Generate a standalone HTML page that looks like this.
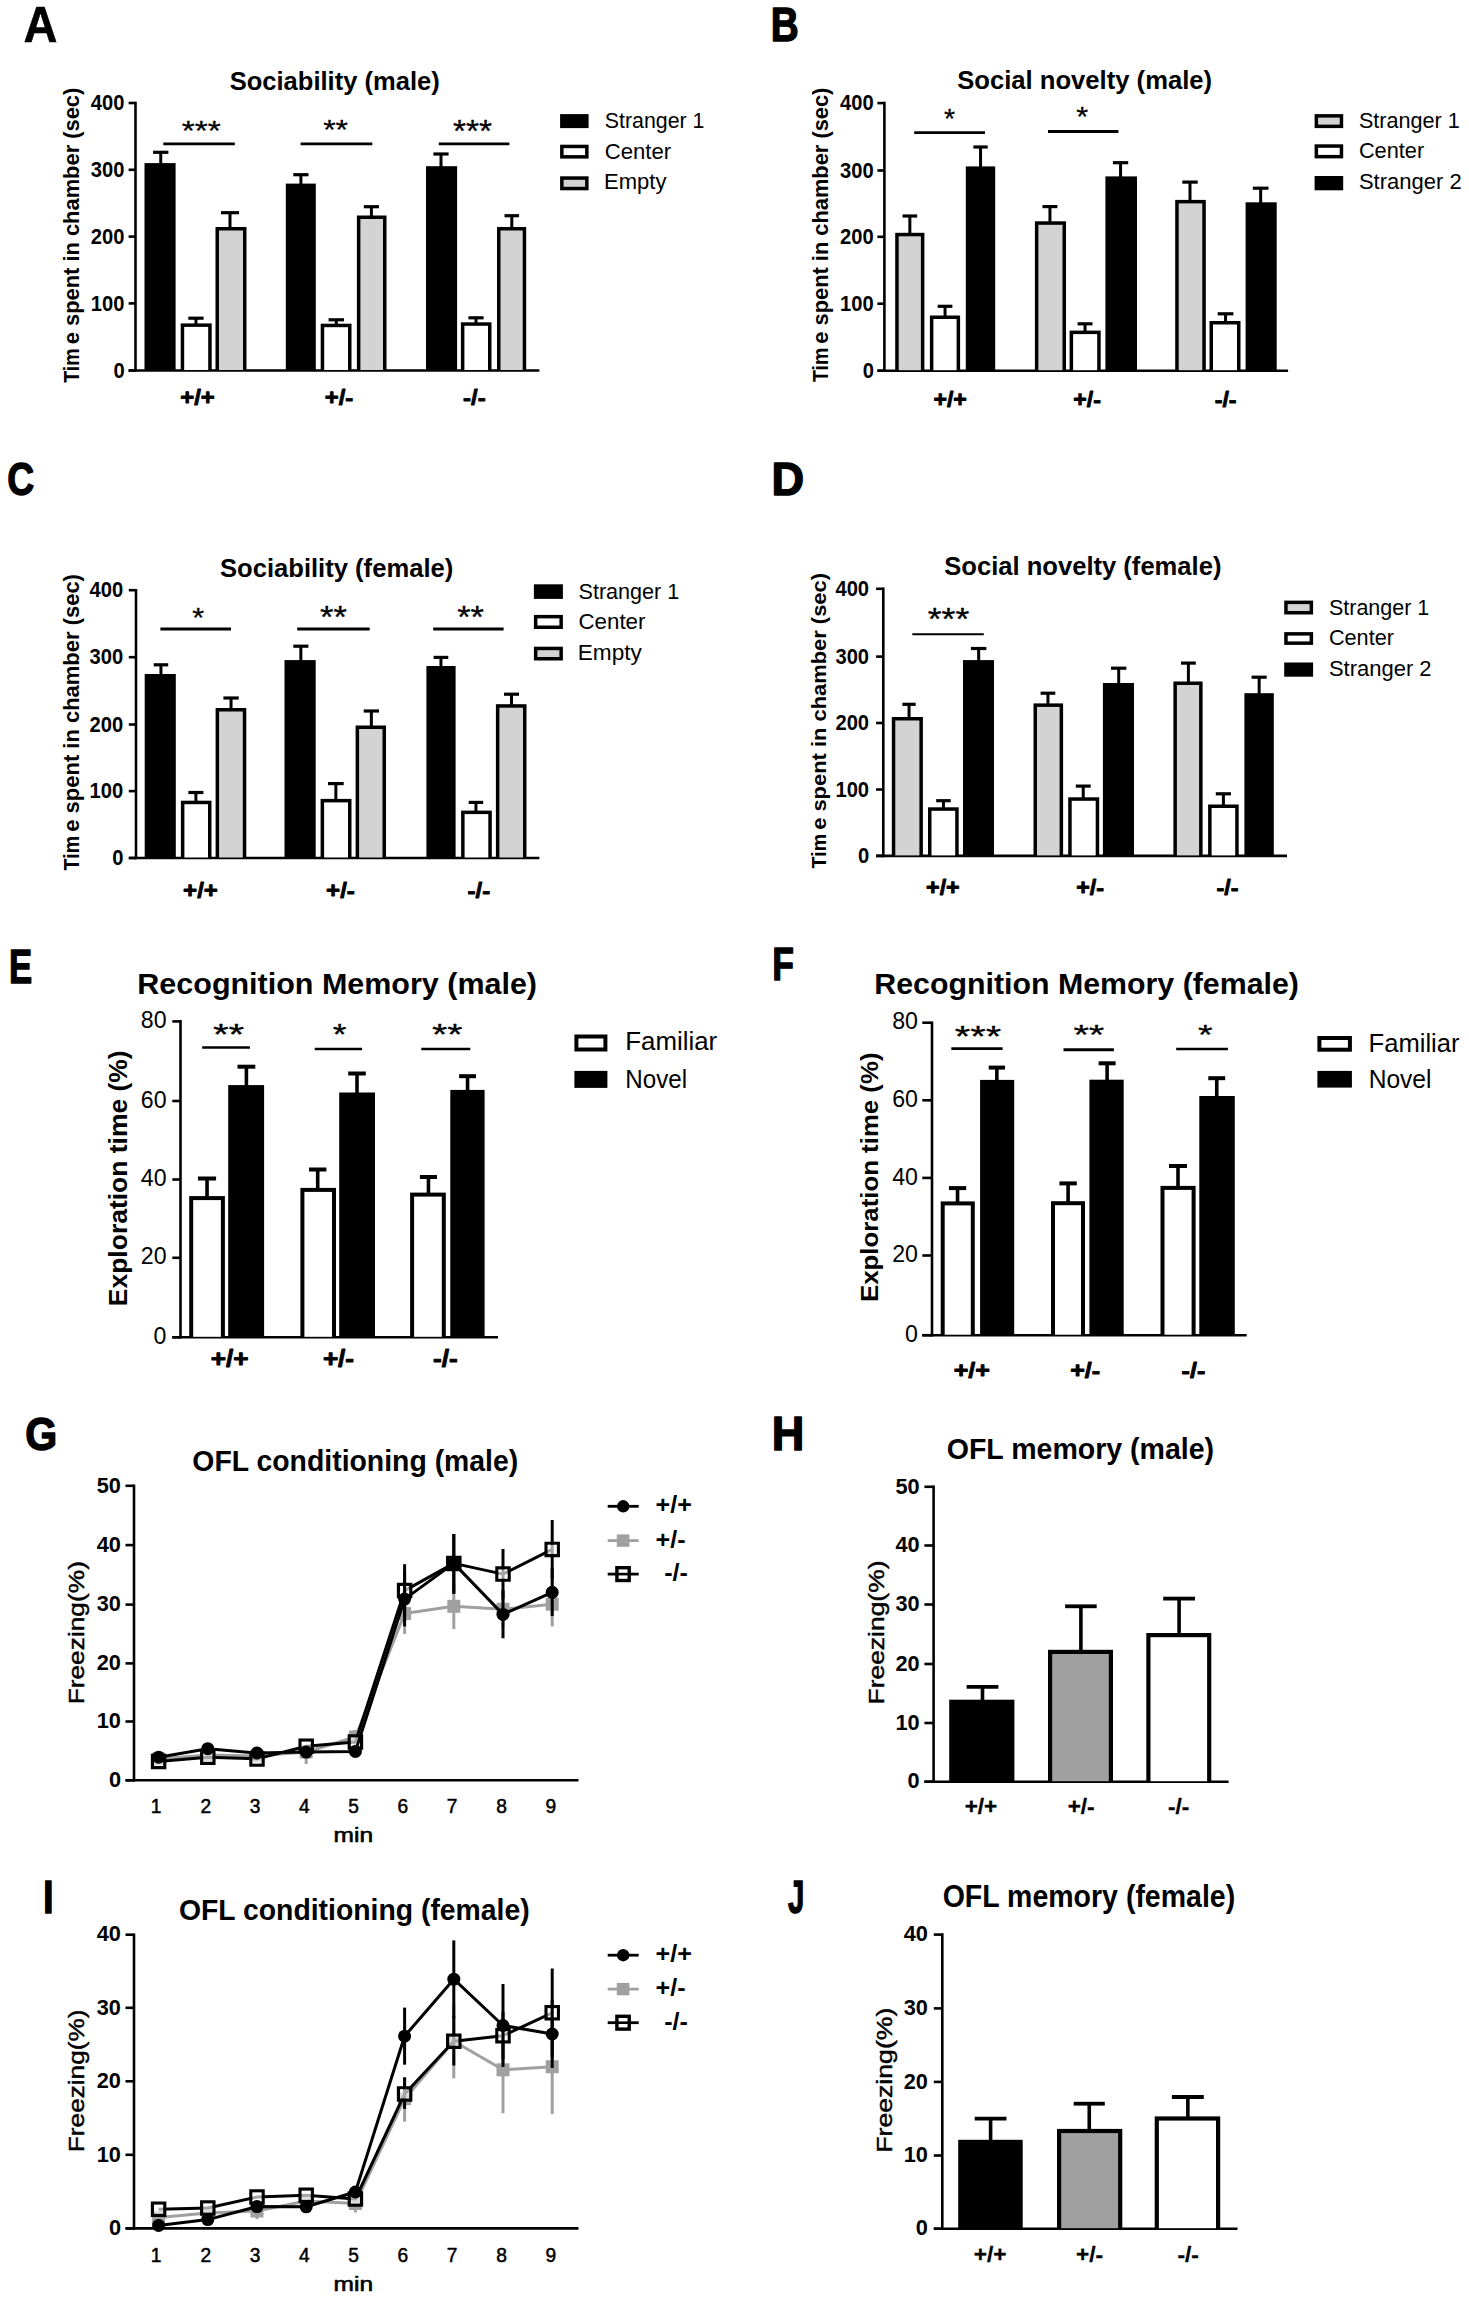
<!DOCTYPE html>
<html><head><meta charset="utf-8"><style>
html,body{margin:0;padding:0;background:#fff;overflow:hidden;width:1469px;height:2300px;}
svg{display:block;}
text{font-family:"Liberation Sans",sans-serif;}
</style></head><body>
<svg width="1469" height="2300" viewBox="0 0 1469 2300">
<rect width="1469" height="2300" fill="#fff"/>
<line x1="135.50" y1="101.70" x2="135.50" y2="371.80" stroke="#000" stroke-width="2.6" stroke-linecap="butt"/>
<line x1="128.60" y1="370.50" x2="539.40" y2="370.50" stroke="#000" stroke-width="2.6" stroke-linecap="butt"/>
<line x1="128.60" y1="103.00" x2="135.50" y2="103.00" stroke="#000" stroke-width="2.6" stroke-linecap="butt"/>
<line x1="128.60" y1="169.80" x2="135.50" y2="169.80" stroke="#000" stroke-width="2.6" stroke-linecap="butt"/>
<line x1="128.60" y1="236.60" x2="135.50" y2="236.60" stroke="#000" stroke-width="2.6" stroke-linecap="butt"/>
<line x1="128.60" y1="303.40" x2="135.50" y2="303.40" stroke="#000" stroke-width="2.6" stroke-linecap="butt"/>
<line x1="128.60" y1="370.50" x2="135.50" y2="370.50" stroke="#000" stroke-width="2.6" stroke-linecap="butt"/>
<text transform="translate(90.82,110.21) scale(0.2017,0.2169)" font-size="100" font-weight="bold" fill="#000" xml:space="preserve">400</text>
<text transform="translate(90.82,177.01) scale(0.2017,0.2169)" font-size="100" font-weight="bold" fill="#000" xml:space="preserve">300</text>
<text transform="translate(90.82,243.81) scale(0.2017,0.2169)" font-size="100" font-weight="bold" fill="#000" xml:space="preserve">200</text>
<text transform="translate(90.82,310.61) scale(0.2017,0.2169)" font-size="100" font-weight="bold" fill="#000" xml:space="preserve">100</text>
<text transform="translate(113.41,377.71) scale(0.2017,0.2169)" font-size="100" font-weight="bold" fill="#000" xml:space="preserve">0</text>
<line x1="160.75" y1="164.10" x2="160.75" y2="152.30" stroke="#000" stroke-width="3.0" stroke-linecap="butt"/>
<line x1="153.10" y1="152.30" x2="168.40" y2="152.30" stroke="#000" stroke-width="3.2" stroke-linecap="butt"/>
<rect x="144.50" y="163.10" width="31.10" height="207.40" fill="#000"/>
<line x1="195.95" y1="324.40" x2="195.95" y2="318.20" stroke="#000" stroke-width="3.0" stroke-linecap="butt"/>
<line x1="188.30" y1="318.20" x2="203.60" y2="318.20" stroke="#000" stroke-width="3.2" stroke-linecap="butt"/>
<rect x="180.70" y="323.40" width="31.00" height="47.10" fill="#000"/>
<rect x="184.20" y="326.90" width="24.00" height="43.10" fill="#fff"/>
<line x1="230.00" y1="228.00" x2="230.00" y2="212.70" stroke="#000" stroke-width="3.0" stroke-linecap="butt"/>
<line x1="221.00" y1="212.70" x2="239.00" y2="212.70" stroke="#000" stroke-width="3.2" stroke-linecap="butt"/>
<rect x="215.50" y="227.00" width="31.00" height="143.50" fill="#000"/>
<rect x="219.00" y="230.50" width="24.00" height="139.50" fill="#d3d3d3"/>
<line x1="300.90" y1="184.60" x2="300.90" y2="174.70" stroke="#000" stroke-width="3.0" stroke-linecap="butt"/>
<line x1="293.30" y1="174.70" x2="308.50" y2="174.70" stroke="#000" stroke-width="3.2" stroke-linecap="butt"/>
<rect x="285.80" y="183.60" width="30.00" height="186.90" fill="#000"/>
<line x1="336.30" y1="324.70" x2="336.30" y2="319.80" stroke="#000" stroke-width="3.0" stroke-linecap="butt"/>
<line x1="328.60" y1="319.80" x2="344.00" y2="319.80" stroke="#000" stroke-width="3.2" stroke-linecap="butt"/>
<rect x="320.70" y="323.70" width="30.80" height="46.80" fill="#000"/>
<rect x="324.20" y="327.20" width="23.80" height="42.80" fill="#fff"/>
<line x1="371.40" y1="216.50" x2="371.40" y2="206.70" stroke="#000" stroke-width="3.0" stroke-linecap="butt"/>
<line x1="363.80" y1="206.70" x2="379.00" y2="206.70" stroke="#000" stroke-width="3.2" stroke-linecap="butt"/>
<rect x="356.90" y="215.50" width="29.60" height="155.00" fill="#000"/>
<rect x="360.40" y="219.00" width="22.60" height="151.00" fill="#d3d3d3"/>
<line x1="441.00" y1="167.20" x2="441.00" y2="154.00" stroke="#000" stroke-width="3.0" stroke-linecap="butt"/>
<line x1="433.40" y1="154.00" x2="448.60" y2="154.00" stroke="#000" stroke-width="3.2" stroke-linecap="butt"/>
<rect x="426.00" y="166.20" width="31.10" height="204.30" fill="#000"/>
<line x1="476.00" y1="323.30" x2="476.00" y2="317.80" stroke="#000" stroke-width="3.0" stroke-linecap="butt"/>
<line x1="468.40" y1="317.80" x2="483.60" y2="317.80" stroke="#000" stroke-width="3.2" stroke-linecap="butt"/>
<rect x="460.90" y="322.30" width="30.60" height="48.20" fill="#000"/>
<rect x="464.40" y="325.80" width="23.60" height="44.20" fill="#fff"/>
<line x1="511.80" y1="228.00" x2="511.80" y2="215.70" stroke="#000" stroke-width="3.0" stroke-linecap="butt"/>
<line x1="504.50" y1="215.70" x2="519.10" y2="215.70" stroke="#000" stroke-width="3.2" stroke-linecap="butt"/>
<rect x="497.00" y="227.00" width="29.20" height="143.50" fill="#000"/>
<rect x="500.50" y="230.50" width="22.20" height="139.50" fill="#d3d3d3"/>
<line x1="163.30" y1="143.90" x2="234.80" y2="143.90" stroke="#000" stroke-width="2.8" stroke-linecap="butt"/>
<line x1="300.60" y1="143.90" x2="372.30" y2="143.90" stroke="#000" stroke-width="2.8" stroke-linecap="butt"/>
<line x1="438.80" y1="143.90" x2="509.40" y2="143.90" stroke="#000" stroke-width="2.8" stroke-linecap="butt"/>
<text transform="translate(181.80,140.21) scale(0.3342,0.2778)" font-size="100" font-weight="normal" fill="#000" stroke="#000" stroke-width="1.0" stroke-linejoin="round" xml:space="preserve">***</text>
<text transform="translate(323.22,139.20) scale(0.3187,0.2806)" font-size="100" font-weight="normal" fill="#000" stroke="#000" stroke-width="1.0" stroke-linejoin="round" xml:space="preserve">**</text>
<text transform="translate(453.00,142.41) scale(0.3342,0.3167)" font-size="100" font-weight="normal" fill="#000" stroke="#000" stroke-width="1.0" stroke-linejoin="round" xml:space="preserve">***</text>
<text transform="translate(180.22,405.33) scale(0.2390,0.2231)" font-size="100" font-weight="bold" fill="#000" stroke="#000" stroke-width="4" stroke-linejoin="round" xml:space="preserve">+/+</text>
<text transform="translate(324.72,405.33) scale(0.2390,0.2231)" font-size="100" font-weight="bold" fill="#000" stroke="#000" stroke-width="4" stroke-linejoin="round" xml:space="preserve">+/-</text>
<text transform="translate(463.12,405.33) scale(0.2390,0.2231)" font-size="100" font-weight="bold" fill="#000" stroke="#000" stroke-width="4" stroke-linejoin="round" xml:space="preserve">-/-</text>
<text transform="translate(229.63,89.60) scale(0.2556,0.2609)" font-size="100" font-weight="bold" fill="#000" xml:space="preserve">Sociability (male)</text>
<text transform="translate(78.92,382.80) rotate(-90) scale(0.1959,0.2277)" font-size="100" font-weight="bold" fill="#000" xml:space="preserve">Tim</text>
<text transform="translate(78.92,344.29) rotate(-90) scale(0.2189,0.2277)" font-size="100" font-weight="bold" fill="#000" xml:space="preserve">e spent in chamber (sec)</text>
<rect x="560.10" y="114.10" width="28.50" height="14.00" fill="#000"/>
<rect x="560.10" y="144.70" width="28.50" height="13.90" fill="#000"/>
<rect x="563.60" y="148.20" width="21.50" height="6.90" fill="#fff"/>
<rect x="560.10" y="176.30" width="28.50" height="14.00" fill="#000"/>
<rect x="563.60" y="179.80" width="21.50" height="7.00" fill="#d3d3d3"/>
<text transform="translate(604.73,128.40) scale(0.2136,0.2246)" font-size="100" font-weight="normal" fill="#000" xml:space="preserve">Stranger 1</text>
<text transform="translate(604.69,158.60) scale(0.2217,0.2217)" font-size="100" font-weight="normal" fill="#000" xml:space="preserve">Center</text>
<text transform="translate(604.04,189.20) scale(0.2203,0.2203)" font-size="100" font-weight="normal" fill="#000" xml:space="preserve">Empty</text>
<text transform="translate(23.42,41.85) scale(0.4701,0.4971)" font-size="100" font-weight="bold" fill="#000" stroke="#000" stroke-width="1" stroke-linejoin="round" xml:space="preserve">A</text>
<line x1="884.40" y1="101.80" x2="884.40" y2="372.00" stroke="#000" stroke-width="2.6" stroke-linecap="butt"/>
<line x1="877.40" y1="370.70" x2="1288.10" y2="370.70" stroke="#000" stroke-width="2.6" stroke-linecap="butt"/>
<line x1="877.40" y1="103.10" x2="884.40" y2="103.10" stroke="#000" stroke-width="2.6" stroke-linecap="butt"/>
<line x1="877.40" y1="170.50" x2="884.40" y2="170.50" stroke="#000" stroke-width="2.6" stroke-linecap="butt"/>
<line x1="877.40" y1="236.80" x2="884.40" y2="236.80" stroke="#000" stroke-width="2.6" stroke-linecap="butt"/>
<line x1="877.40" y1="303.70" x2="884.40" y2="303.70" stroke="#000" stroke-width="2.6" stroke-linecap="butt"/>
<line x1="877.40" y1="370.70" x2="884.40" y2="370.70" stroke="#000" stroke-width="2.6" stroke-linecap="butt"/>
<text transform="translate(840.12,110.31) scale(0.2017,0.2169)" font-size="100" font-weight="bold" fill="#000" xml:space="preserve">400</text>
<text transform="translate(840.12,177.71) scale(0.2017,0.2169)" font-size="100" font-weight="bold" fill="#000" xml:space="preserve">300</text>
<text transform="translate(840.12,244.01) scale(0.2017,0.2169)" font-size="100" font-weight="bold" fill="#000" xml:space="preserve">200</text>
<text transform="translate(840.12,310.91) scale(0.2017,0.2169)" font-size="100" font-weight="bold" fill="#000" xml:space="preserve">100</text>
<text transform="translate(862.71,377.91) scale(0.2017,0.2169)" font-size="100" font-weight="bold" fill="#000" xml:space="preserve">0</text>
<line x1="909.85" y1="233.80" x2="909.85" y2="216.00" stroke="#000" stroke-width="3.0" stroke-linecap="butt"/>
<line x1="902.50" y1="216.00" x2="917.20" y2="216.00" stroke="#000" stroke-width="3.2" stroke-linecap="butt"/>
<rect x="895.20" y="232.80" width="29.20" height="137.90" fill="#000"/>
<rect x="898.70" y="236.30" width="22.20" height="133.90" fill="#d3d3d3"/>
<line x1="945.05" y1="316.50" x2="945.05" y2="306.30" stroke="#000" stroke-width="3.0" stroke-linecap="butt"/>
<line x1="937.70" y1="306.30" x2="952.40" y2="306.30" stroke="#000" stroke-width="3.2" stroke-linecap="butt"/>
<rect x="929.90" y="315.50" width="30.20" height="55.20" fill="#000"/>
<rect x="933.40" y="319.00" width="23.20" height="51.20" fill="#fff"/>
<line x1="980.55" y1="167.40" x2="980.55" y2="147.00" stroke="#000" stroke-width="3.0" stroke-linecap="butt"/>
<line x1="973.40" y1="147.00" x2="987.70" y2="147.00" stroke="#000" stroke-width="3.2" stroke-linecap="butt"/>
<rect x="965.80" y="166.40" width="29.40" height="204.30" fill="#000"/>
<line x1="1049.95" y1="222.30" x2="1049.95" y2="206.60" stroke="#000" stroke-width="3.0" stroke-linecap="butt"/>
<line x1="1042.50" y1="206.60" x2="1057.40" y2="206.60" stroke="#000" stroke-width="3.2" stroke-linecap="butt"/>
<rect x="1034.90" y="221.30" width="31.10" height="149.40" fill="#000"/>
<rect x="1038.40" y="224.80" width="24.10" height="145.40" fill="#d3d3d3"/>
<line x1="1085.05" y1="331.60" x2="1085.05" y2="323.80" stroke="#000" stroke-width="3.0" stroke-linecap="butt"/>
<line x1="1077.60" y1="323.80" x2="1092.50" y2="323.80" stroke="#000" stroke-width="3.2" stroke-linecap="butt"/>
<rect x="1069.60" y="330.60" width="31.10" height="40.10" fill="#000"/>
<rect x="1073.10" y="334.10" width="24.10" height="36.10" fill="#fff"/>
<line x1="1120.55" y1="177.40" x2="1120.55" y2="162.70" stroke="#000" stroke-width="3.0" stroke-linecap="butt"/>
<line x1="1112.90" y1="162.70" x2="1128.20" y2="162.70" stroke="#000" stroke-width="3.2" stroke-linecap="butt"/>
<rect x="1105.40" y="176.40" width="31.60" height="194.30" fill="#000"/>
<line x1="1190.00" y1="200.90" x2="1190.00" y2="182.10" stroke="#000" stroke-width="3.0" stroke-linecap="butt"/>
<line x1="1182.30" y1="182.10" x2="1197.70" y2="182.10" stroke="#000" stroke-width="3.2" stroke-linecap="butt"/>
<rect x="1175.20" y="199.90" width="30.60" height="170.80" fill="#000"/>
<rect x="1178.70" y="203.40" width="23.60" height="166.80" fill="#d3d3d3"/>
<line x1="1225.55" y1="322.00" x2="1225.55" y2="313.80" stroke="#000" stroke-width="3.0" stroke-linecap="butt"/>
<line x1="1217.70" y1="313.80" x2="1233.40" y2="313.80" stroke="#000" stroke-width="3.2" stroke-linecap="butt"/>
<rect x="1209.50" y="321.00" width="31.00" height="49.70" fill="#000"/>
<rect x="1213.00" y="324.50" width="24.00" height="45.70" fill="#fff"/>
<line x1="1260.65" y1="203.30" x2="1260.65" y2="188.20" stroke="#000" stroke-width="3.0" stroke-linecap="butt"/>
<line x1="1252.80" y1="188.20" x2="1268.50" y2="188.20" stroke="#000" stroke-width="3.2" stroke-linecap="butt"/>
<rect x="1245.60" y="202.30" width="31.10" height="168.40" fill="#000"/>
<line x1="914.20" y1="132.70" x2="985.00" y2="132.70" stroke="#000" stroke-width="2.8" stroke-linecap="butt"/>
<line x1="1048.00" y1="131.50" x2="1118.40" y2="131.50" stroke="#000" stroke-width="2.8" stroke-linecap="butt"/>
<text transform="translate(944.08,127.79) scale(0.2833,0.2833)" font-size="100" font-weight="normal" fill="#000" stroke="#000" stroke-width="1.0" stroke-linejoin="round" xml:space="preserve">*</text>
<text transform="translate(1076.24,125.79) scale(0.3056,0.2833)" font-size="100" font-weight="normal" fill="#000" stroke="#000" stroke-width="1.0" stroke-linejoin="round" xml:space="preserve">*</text>
<text transform="translate(933.44,407.01) scale(0.2312,0.2295)" font-size="100" font-weight="bold" fill="#000" stroke="#000" stroke-width="4" stroke-linejoin="round" xml:space="preserve">+/+</text>
<text transform="translate(1073.24,407.01) scale(0.2312,0.2295)" font-size="100" font-weight="bold" fill="#000" stroke="#000" stroke-width="4" stroke-linejoin="round" xml:space="preserve">+/-</text>
<text transform="translate(1214.74,407.01) scale(0.2312,0.2295)" font-size="100" font-weight="bold" fill="#000" stroke="#000" stroke-width="4" stroke-linejoin="round" xml:space="preserve">-/-</text>
<text transform="translate(957.23,89.20) scale(0.2563,0.2565)" font-size="100" font-weight="bold" fill="#000" xml:space="preserve">Social novelty (male)</text>
<text transform="translate(827.62,382.10) rotate(-90) scale(0.1955,0.2277)" font-size="100" font-weight="bold" fill="#000" xml:space="preserve">Tim</text>
<text transform="translate(827.62,343.66) rotate(-90) scale(0.2185,0.2277)" font-size="100" font-weight="bold" fill="#000" xml:space="preserve">e spent in chamber (sec)</text>
<rect x="1314.60" y="114.10" width="28.60" height="14.00" fill="#000"/>
<rect x="1318.10" y="117.60" width="21.60" height="7.00" fill="#d3d3d3"/>
<rect x="1314.60" y="144.30" width="28.60" height="14.10" fill="#000"/>
<rect x="1318.10" y="147.80" width="21.60" height="7.10" fill="#fff"/>
<rect x="1314.60" y="176.00" width="28.60" height="14.30" fill="#000"/>
<text transform="translate(1358.92,128.10) scale(0.2162,0.2203)" font-size="100" font-weight="normal" fill="#000" xml:space="preserve">Stranger 1</text>
<text transform="translate(1358.91,158.40) scale(0.2177,0.2188)" font-size="100" font-weight="normal" fill="#000" xml:space="preserve">Center</text>
<text transform="translate(1358.90,189.40) scale(0.2201,0.2188)" font-size="100" font-weight="normal" fill="#000" xml:space="preserve">Stranger 2</text>
<text transform="translate(770.77,40.79) scale(0.3875,0.4722)" font-size="100" font-weight="bold" fill="#000" stroke="#000" stroke-width="3" stroke-linejoin="round" xml:space="preserve">B</text>
<line x1="136.00" y1="588.90" x2="136.00" y2="859.30" stroke="#000" stroke-width="2.6" stroke-linecap="butt"/>
<line x1="128.80" y1="858.00" x2="539.40" y2="858.00" stroke="#000" stroke-width="2.6" stroke-linecap="butt"/>
<line x1="128.80" y1="590.20" x2="136.00" y2="590.20" stroke="#000" stroke-width="2.6" stroke-linecap="butt"/>
<line x1="128.80" y1="657.20" x2="136.00" y2="657.20" stroke="#000" stroke-width="2.6" stroke-linecap="butt"/>
<line x1="128.80" y1="724.50" x2="136.00" y2="724.50" stroke="#000" stroke-width="2.6" stroke-linecap="butt"/>
<line x1="128.80" y1="791.10" x2="136.00" y2="791.10" stroke="#000" stroke-width="2.6" stroke-linecap="butt"/>
<line x1="128.80" y1="858.00" x2="136.00" y2="858.00" stroke="#000" stroke-width="2.6" stroke-linecap="butt"/>
<text transform="translate(89.62,597.41) scale(0.2017,0.2169)" font-size="100" font-weight="bold" fill="#000" xml:space="preserve">400</text>
<text transform="translate(89.62,664.41) scale(0.2017,0.2169)" font-size="100" font-weight="bold" fill="#000" xml:space="preserve">300</text>
<text transform="translate(89.62,731.71) scale(0.2017,0.2169)" font-size="100" font-weight="bold" fill="#000" xml:space="preserve">200</text>
<text transform="translate(89.62,798.31) scale(0.2017,0.2169)" font-size="100" font-weight="bold" fill="#000" xml:space="preserve">100</text>
<text transform="translate(112.21,865.21) scale(0.2017,0.2169)" font-size="100" font-weight="bold" fill="#000" xml:space="preserve">0</text>
<line x1="160.95" y1="675.00" x2="160.95" y2="664.80" stroke="#000" stroke-width="3.0" stroke-linecap="butt"/>
<line x1="153.70" y1="664.80" x2="168.20" y2="664.80" stroke="#000" stroke-width="3.2" stroke-linecap="butt"/>
<rect x="144.70" y="674.00" width="31.10" height="184.00" fill="#000"/>
<line x1="195.90" y1="801.70" x2="195.90" y2="792.50" stroke="#000" stroke-width="3.0" stroke-linecap="butt"/>
<line x1="188.40" y1="792.50" x2="203.40" y2="792.50" stroke="#000" stroke-width="3.2" stroke-linecap="butt"/>
<rect x="180.90" y="800.70" width="30.60" height="57.30" fill="#000"/>
<rect x="184.40" y="804.20" width="23.60" height="53.30" fill="#fff"/>
<line x1="231.05" y1="709.00" x2="231.05" y2="698.00" stroke="#000" stroke-width="3.0" stroke-linecap="butt"/>
<line x1="223.40" y1="698.00" x2="238.70" y2="698.00" stroke="#000" stroke-width="3.2" stroke-linecap="butt"/>
<rect x="215.60" y="708.00" width="30.70" height="150.00" fill="#000"/>
<rect x="219.10" y="711.50" width="23.70" height="146.00" fill="#d3d3d3"/>
<line x1="300.85" y1="661.10" x2="300.85" y2="646.20" stroke="#000" stroke-width="3.0" stroke-linecap="butt"/>
<line x1="293.30" y1="646.20" x2="308.40" y2="646.20" stroke="#000" stroke-width="3.2" stroke-linecap="butt"/>
<rect x="284.50" y="660.10" width="31.20" height="197.90" fill="#000"/>
<line x1="335.85" y1="799.90" x2="335.85" y2="783.60" stroke="#000" stroke-width="3.0" stroke-linecap="butt"/>
<line x1="328.00" y1="783.60" x2="343.70" y2="783.60" stroke="#000" stroke-width="3.2" stroke-linecap="butt"/>
<rect x="320.60" y="798.90" width="30.90" height="59.10" fill="#000"/>
<rect x="324.10" y="802.40" width="23.90" height="55.10" fill="#fff"/>
<line x1="371.35" y1="726.50" x2="371.35" y2="711.00" stroke="#000" stroke-width="3.0" stroke-linecap="butt"/>
<line x1="363.70" y1="711.00" x2="379.00" y2="711.00" stroke="#000" stroke-width="3.2" stroke-linecap="butt"/>
<rect x="355.60" y="725.50" width="30.40" height="132.50" fill="#000"/>
<rect x="359.10" y="729.00" width="23.40" height="128.50" fill="#d3d3d3"/>
<line x1="440.95" y1="667.00" x2="440.95" y2="657.40" stroke="#000" stroke-width="3.0" stroke-linecap="butt"/>
<line x1="433.60" y1="657.40" x2="448.30" y2="657.40" stroke="#000" stroke-width="3.2" stroke-linecap="butt"/>
<rect x="426.40" y="666.00" width="29.20" height="192.00" fill="#000"/>
<line x1="475.95" y1="811.60" x2="475.95" y2="802.40" stroke="#000" stroke-width="3.0" stroke-linecap="butt"/>
<line x1="468.70" y1="802.40" x2="483.20" y2="802.40" stroke="#000" stroke-width="3.2" stroke-linecap="butt"/>
<rect x="461.10" y="810.60" width="30.70" height="47.40" fill="#000"/>
<rect x="464.60" y="814.10" width="23.70" height="43.40" fill="#fff"/>
<line x1="511.50" y1="705.20" x2="511.50" y2="694.20" stroke="#000" stroke-width="3.0" stroke-linecap="butt"/>
<line x1="504.00" y1="694.20" x2="519.00" y2="694.20" stroke="#000" stroke-width="3.2" stroke-linecap="butt"/>
<rect x="495.90" y="704.20" width="30.60" height="153.80" fill="#000"/>
<rect x="499.40" y="707.70" width="23.60" height="149.80" fill="#d3d3d3"/>
<line x1="160.40" y1="629.00" x2="231.00" y2="629.00" stroke="#000" stroke-width="2.8" stroke-linecap="butt"/>
<line x1="297.20" y1="629.00" x2="369.70" y2="629.00" stroke="#000" stroke-width="2.8" stroke-linecap="butt"/>
<line x1="433.20" y1="629.00" x2="503.60" y2="629.00" stroke="#000" stroke-width="2.8" stroke-linecap="butt"/>
<text transform="translate(192.24,626.91) scale(0.3056,0.2778)" font-size="100" font-weight="normal" fill="#000" stroke="#000" stroke-width="1.0" stroke-linejoin="round" xml:space="preserve">*</text>
<text transform="translate(320.08,627.64) scale(0.3440,0.3056)" font-size="100" font-weight="normal" fill="#000" stroke="#000" stroke-width="1.0" stroke-linejoin="round" xml:space="preserve">**</text>
<text transform="translate(457.18,627.64) scale(0.3440,0.3056)" font-size="100" font-weight="normal" fill="#000" stroke="#000" stroke-width="1.0" stroke-linejoin="round" xml:space="preserve">**</text>
<text transform="translate(183.12,897.62) scale(0.2404,0.2282)" font-size="100" font-weight="bold" fill="#000" stroke="#000" stroke-width="4" stroke-linejoin="round" xml:space="preserve">+/+</text>
<text transform="translate(326.12,897.62) scale(0.2404,0.2282)" font-size="100" font-weight="bold" fill="#000" stroke="#000" stroke-width="4" stroke-linejoin="round" xml:space="preserve">+/-</text>
<text transform="translate(467.52,897.62) scale(0.2404,0.2282)" font-size="100" font-weight="bold" fill="#000" stroke="#000" stroke-width="4" stroke-linejoin="round" xml:space="preserve">-/-</text>
<text transform="translate(219.93,576.70) scale(0.2561,0.2493)" font-size="100" font-weight="bold" fill="#000" xml:space="preserve">Sociability (female)</text>
<text transform="translate(79.24,870.40) rotate(-90) scale(0.1968,0.2170)" font-size="100" font-weight="bold" fill="#000" xml:space="preserve">Tim</text>
<text transform="translate(79.24,831.72) rotate(-90) scale(0.2199,0.2170)" font-size="100" font-weight="bold" fill="#000" xml:space="preserve">e spent in chamber (sec)</text>
<rect x="533.90" y="584.30" width="29.00" height="14.60" fill="#000"/>
<rect x="533.90" y="614.90" width="29.00" height="14.10" fill="#000"/>
<rect x="537.40" y="618.40" width="22.00" height="7.10" fill="#fff"/>
<rect x="533.90" y="646.70" width="29.00" height="13.80" fill="#000"/>
<rect x="537.40" y="650.20" width="22.00" height="6.80" fill="#d3d3d3"/>
<text transform="translate(578.52,598.90) scale(0.2160,0.2246)" font-size="100" font-weight="normal" fill="#000" xml:space="preserve">Stranger 1</text>
<text transform="translate(578.48,629.00) scale(0.2232,0.2232)" font-size="100" font-weight="normal" fill="#000" xml:space="preserve">Center</text>
<text transform="translate(577.79,659.90) scale(0.2261,0.2261)" font-size="100" font-weight="normal" fill="#000" xml:space="preserve">Empty</text>
<text transform="translate(7.37,494.76) scale(0.3721,0.4568)" font-size="100" font-weight="bold" fill="#000" stroke="#000" stroke-width="3" stroke-linejoin="round" xml:space="preserve">C</text>
<line x1="883.30" y1="587.50" x2="883.30" y2="857.20" stroke="#000" stroke-width="2.6" stroke-linecap="butt"/>
<line x1="876.10" y1="855.90" x2="1287.00" y2="855.90" stroke="#000" stroke-width="2.6" stroke-linecap="butt"/>
<line x1="876.10" y1="588.80" x2="883.30" y2="588.80" stroke="#000" stroke-width="2.6" stroke-linecap="butt"/>
<line x1="876.10" y1="656.60" x2="883.30" y2="656.60" stroke="#000" stroke-width="2.6" stroke-linecap="butt"/>
<line x1="876.10" y1="723.00" x2="883.30" y2="723.00" stroke="#000" stroke-width="2.6" stroke-linecap="butt"/>
<line x1="876.10" y1="789.50" x2="883.30" y2="789.50" stroke="#000" stroke-width="2.6" stroke-linecap="butt"/>
<line x1="876.10" y1="855.90" x2="883.30" y2="855.90" stroke="#000" stroke-width="2.6" stroke-linecap="butt"/>
<text transform="translate(835.42,596.01) scale(0.2017,0.2169)" font-size="100" font-weight="bold" fill="#000" xml:space="preserve">400</text>
<text transform="translate(835.42,663.81) scale(0.2017,0.2169)" font-size="100" font-weight="bold" fill="#000" xml:space="preserve">300</text>
<text transform="translate(835.42,730.21) scale(0.2017,0.2169)" font-size="100" font-weight="bold" fill="#000" xml:space="preserve">200</text>
<text transform="translate(835.42,796.71) scale(0.2017,0.2169)" font-size="100" font-weight="bold" fill="#000" xml:space="preserve">100</text>
<text transform="translate(858.01,863.11) scale(0.2017,0.2169)" font-size="100" font-weight="bold" fill="#000" xml:space="preserve">0</text>
<line x1="909.05" y1="718.00" x2="909.05" y2="704.30" stroke="#000" stroke-width="3.0" stroke-linecap="butt"/>
<line x1="902.40" y1="704.30" x2="915.70" y2="704.30" stroke="#000" stroke-width="3.2" stroke-linecap="butt"/>
<rect x="891.80" y="717.00" width="31.10" height="138.90" fill="#000"/>
<rect x="895.30" y="720.50" width="24.10" height="134.90" fill="#d3d3d3"/>
<line x1="943.45" y1="808.30" x2="943.45" y2="800.70" stroke="#000" stroke-width="3.0" stroke-linecap="butt"/>
<line x1="936.20" y1="800.70" x2="950.70" y2="800.70" stroke="#000" stroke-width="3.2" stroke-linecap="butt"/>
<rect x="928.00" y="807.30" width="30.70" height="48.60" fill="#000"/>
<rect x="931.50" y="810.80" width="23.70" height="44.60" fill="#fff"/>
<line x1="978.65" y1="661.10" x2="978.65" y2="648.50" stroke="#000" stroke-width="3.0" stroke-linecap="butt"/>
<line x1="970.90" y1="648.50" x2="986.40" y2="648.50" stroke="#000" stroke-width="3.2" stroke-linecap="butt"/>
<rect x="963.00" y="660.10" width="31.00" height="195.80" fill="#000"/>
<line x1="1047.95" y1="704.40" x2="1047.95" y2="693.20" stroke="#000" stroke-width="3.0" stroke-linecap="butt"/>
<line x1="1040.60" y1="693.20" x2="1055.30" y2="693.20" stroke="#000" stroke-width="3.2" stroke-linecap="butt"/>
<rect x="1033.50" y="703.40" width="29.60" height="152.50" fill="#000"/>
<rect x="1037.00" y="706.90" width="22.60" height="148.50" fill="#d3d3d3"/>
<line x1="1083.25" y1="798.30" x2="1083.25" y2="786.10" stroke="#000" stroke-width="3.0" stroke-linecap="butt"/>
<line x1="1075.80" y1="786.10" x2="1090.70" y2="786.10" stroke="#000" stroke-width="3.2" stroke-linecap="butt"/>
<rect x="1068.20" y="797.30" width="31.00" height="58.60" fill="#000"/>
<rect x="1071.70" y="800.80" width="24.00" height="54.60" fill="#fff"/>
<line x1="1118.70" y1="684.00" x2="1118.70" y2="668.20" stroke="#000" stroke-width="3.0" stroke-linecap="butt"/>
<line x1="1111.00" y1="668.20" x2="1126.40" y2="668.20" stroke="#000" stroke-width="3.2" stroke-linecap="butt"/>
<rect x="1102.90" y="683.00" width="31.10" height="172.90" fill="#000"/>
<line x1="1188.40" y1="682.50" x2="1188.40" y2="663.10" stroke="#000" stroke-width="3.0" stroke-linecap="butt"/>
<line x1="1181.00" y1="663.10" x2="1195.80" y2="663.10" stroke="#000" stroke-width="3.2" stroke-linecap="butt"/>
<rect x="1173.40" y="681.50" width="29.20" height="174.40" fill="#000"/>
<rect x="1176.90" y="685.00" width="22.20" height="170.40" fill="#d3d3d3"/>
<line x1="1223.40" y1="805.50" x2="1223.40" y2="793.80" stroke="#000" stroke-width="3.0" stroke-linecap="butt"/>
<line x1="1215.80" y1="793.80" x2="1231.00" y2="793.80" stroke="#000" stroke-width="3.2" stroke-linecap="butt"/>
<rect x="1208.10" y="804.50" width="30.60" height="51.40" fill="#000"/>
<rect x="1211.60" y="808.00" width="23.60" height="47.40" fill="#fff"/>
<line x1="1259.15" y1="694.20" x2="1259.15" y2="677.20" stroke="#000" stroke-width="3.0" stroke-linecap="butt"/>
<line x1="1251.60" y1="677.20" x2="1266.70" y2="677.20" stroke="#000" stroke-width="3.2" stroke-linecap="butt"/>
<rect x="1244.40" y="693.20" width="29.40" height="162.70" fill="#000"/>
<line x1="912.30" y1="634.20" x2="983.80" y2="634.20" stroke="#000" stroke-width="2.0" stroke-linecap="butt"/>
<text transform="translate(927.77,630.09) scale(0.3553,0.3222)" font-size="100" font-weight="normal" fill="#000" stroke="#000" stroke-width="1.0" stroke-linejoin="round" xml:space="preserve">***</text>
<text transform="translate(926.03,894.62) scale(0.2333,0.2282)" font-size="100" font-weight="bold" fill="#000" stroke="#000" stroke-width="4" stroke-linejoin="round" xml:space="preserve">+/+</text>
<text transform="translate(1076.13,894.62) scale(0.2333,0.2282)" font-size="100" font-weight="bold" fill="#000" stroke="#000" stroke-width="4" stroke-linejoin="round" xml:space="preserve">+/-</text>
<text transform="translate(1216.43,894.62) scale(0.2333,0.2282)" font-size="100" font-weight="bold" fill="#000" stroke="#000" stroke-width="4" stroke-linejoin="round" xml:space="preserve">-/-</text>
<text transform="translate(944.23,575.30) scale(0.2559,0.2667)" font-size="100" font-weight="bold" fill="#000" xml:space="preserve">Social novelty (female)</text>
<text transform="translate(826.14,868.40) rotate(-90) scale(0.1961,0.2074)" font-size="100" font-weight="bold" fill="#000" xml:space="preserve">Tim</text>
<text transform="translate(826.14,829.85) rotate(-90) scale(0.2191,0.2074)" font-size="100" font-weight="bold" fill="#000" xml:space="preserve">e spent in chamber (sec)</text>
<rect x="1284.20" y="600.60" width="28.90" height="13.90" fill="#000"/>
<rect x="1287.70" y="604.10" width="21.90" height="6.90" fill="#d3d3d3"/>
<rect x="1284.20" y="632.10" width="28.90" height="12.80" fill="#000"/>
<rect x="1287.70" y="635.60" width="21.90" height="5.80" fill="#fff"/>
<rect x="1284.20" y="662.50" width="28.90" height="14.20" fill="#000"/>
<text transform="translate(1328.93,614.50) scale(0.2149,0.2217)" font-size="100" font-weight="normal" fill="#000" xml:space="preserve">Stranger 1</text>
<text transform="translate(1328.92,644.90) scale(0.2167,0.2188)" font-size="100" font-weight="normal" fill="#000" xml:space="preserve">Center</text>
<text transform="translate(1328.90,675.50) scale(0.2199,0.2203)" font-size="100" font-weight="normal" fill="#000" xml:space="preserve">Stranger 2</text>
<text transform="translate(771.52,495.20) scale(0.4516,0.4694)" font-size="100" font-weight="bold" fill="#000" stroke="#000" stroke-width="3" stroke-linejoin="round" xml:space="preserve">D</text>
<line x1="180.50" y1="1020.10" x2="180.50" y2="1338.60" stroke="#000" stroke-width="2.6" stroke-linecap="butt"/>
<line x1="172.30" y1="1337.30" x2="498.00" y2="1337.30" stroke="#000" stroke-width="2.6" stroke-linecap="butt"/>
<line x1="172.30" y1="1021.40" x2="180.50" y2="1021.40" stroke="#000" stroke-width="2.6" stroke-linecap="butt"/>
<line x1="172.30" y1="1101.00" x2="180.50" y2="1101.00" stroke="#000" stroke-width="2.6" stroke-linecap="butt"/>
<line x1="172.30" y1="1179.50" x2="180.50" y2="1179.50" stroke="#000" stroke-width="2.6" stroke-linecap="butt"/>
<line x1="172.30" y1="1257.80" x2="180.50" y2="1257.80" stroke="#000" stroke-width="2.6" stroke-linecap="butt"/>
<line x1="172.30" y1="1337.30" x2="180.50" y2="1337.30" stroke="#000" stroke-width="2.6" stroke-linecap="butt"/>
<text transform="translate(140.83,1028.06) scale(0.2315,0.2394)" font-size="100" font-weight="normal" fill="#000" xml:space="preserve">80</text>
<text transform="translate(140.83,1107.66) scale(0.2315,0.2394)" font-size="100" font-weight="normal" fill="#000" xml:space="preserve">60</text>
<text transform="translate(140.83,1186.16) scale(0.2315,0.2394)" font-size="100" font-weight="normal" fill="#000" xml:space="preserve">40</text>
<text transform="translate(140.83,1264.46) scale(0.2315,0.2394)" font-size="100" font-weight="normal" fill="#000" xml:space="preserve">20</text>
<text transform="translate(153.56,1343.96) scale(0.2315,0.2394)" font-size="100" font-weight="normal" fill="#000" xml:space="preserve">0</text>
<line x1="207.05" y1="1197.10" x2="207.05" y2="1178.50" stroke="#000" stroke-width="3.6" stroke-linecap="butt"/>
<line x1="198.00" y1="1178.50" x2="216.10" y2="1178.50" stroke="#000" stroke-width="4.0" stroke-linecap="butt"/>
<rect x="189.20" y="1196.10" width="35.70" height="141.20" fill="#000"/>
<rect x="193.20" y="1200.10" width="27.70" height="136.70" fill="#fff"/>
<line x1="246.40" y1="1086.10" x2="246.40" y2="1066.70" stroke="#000" stroke-width="3.6" stroke-linecap="butt"/>
<line x1="237.50" y1="1066.70" x2="255.30" y2="1066.70" stroke="#000" stroke-width="4.0" stroke-linecap="butt"/>
<rect x="228.20" y="1085.10" width="35.90" height="252.20" fill="#000"/>
<line x1="317.70" y1="1188.90" x2="317.70" y2="1169.50" stroke="#000" stroke-width="3.6" stroke-linecap="butt"/>
<line x1="309.00" y1="1169.50" x2="326.40" y2="1169.50" stroke="#000" stroke-width="4.0" stroke-linecap="butt"/>
<rect x="300.40" y="1187.90" width="35.60" height="149.40" fill="#000"/>
<rect x="304.40" y="1191.90" width="27.60" height="144.90" fill="#fff"/>
<line x1="357.00" y1="1093.50" x2="357.00" y2="1073.50" stroke="#000" stroke-width="3.6" stroke-linecap="butt"/>
<line x1="348.20" y1="1073.50" x2="365.80" y2="1073.50" stroke="#000" stroke-width="4.0" stroke-linecap="butt"/>
<rect x="339.20" y="1092.50" width="35.80" height="244.80" fill="#000"/>
<line x1="428.45" y1="1193.60" x2="428.45" y2="1177.00" stroke="#000" stroke-width="3.6" stroke-linecap="butt"/>
<line x1="419.90" y1="1177.00" x2="437.00" y2="1177.00" stroke="#000" stroke-width="4.0" stroke-linecap="butt"/>
<rect x="410.10" y="1192.60" width="35.70" height="144.70" fill="#000"/>
<rect x="414.10" y="1196.60" width="27.70" height="140.20" fill="#fff"/>
<line x1="467.55" y1="1090.90" x2="467.55" y2="1076.20" stroke="#000" stroke-width="3.6" stroke-linecap="butt"/>
<line x1="459.10" y1="1076.20" x2="476.00" y2="1076.20" stroke="#000" stroke-width="4.0" stroke-linecap="butt"/>
<rect x="450.30" y="1089.90" width="34.30" height="247.40" fill="#000"/>
<line x1="202.20" y1="1047.50" x2="249.90" y2="1047.50" stroke="#000" stroke-width="2.6" stroke-linecap="butt"/>
<line x1="314.70" y1="1049.00" x2="362.10" y2="1049.00" stroke="#000" stroke-width="2.6" stroke-linecap="butt"/>
<line x1="421.30" y1="1049.00" x2="470.30" y2="1049.00" stroke="#000" stroke-width="2.6" stroke-linecap="butt"/>
<text transform="translate(212.89,1043.94) scale(0.4040,0.3028)" font-size="100" font-weight="normal" fill="#000" stroke="#000" stroke-width="1.0" stroke-linejoin="round" xml:space="preserve">**</text>
<text transform="translate(332.77,1044.45) scale(0.3528,0.3000)" font-size="100" font-weight="normal" fill="#000" stroke="#000" stroke-width="1.0" stroke-linejoin="round" xml:space="preserve">*</text>
<text transform="translate(431.91,1044.44) scale(0.3920,0.3028)" font-size="100" font-weight="normal" fill="#000" stroke="#000" stroke-width="1.0" stroke-linejoin="round" xml:space="preserve">**</text>
<text transform="translate(210.68,1366.90) scale(0.2610,0.2333)" font-size="100" font-weight="bold" fill="#000" stroke="#000" stroke-width="4" stroke-linejoin="round" xml:space="preserve">+/+</text>
<text transform="translate(322.88,1366.90) scale(0.2610,0.2333)" font-size="100" font-weight="bold" fill="#000" stroke="#000" stroke-width="4" stroke-linejoin="round" xml:space="preserve">+/-</text>
<text transform="translate(432.98,1366.90) scale(0.2610,0.2333)" font-size="100" font-weight="bold" fill="#000" stroke="#000" stroke-width="4" stroke-linejoin="round" xml:space="preserve">-/-</text>
<text transform="translate(137.36,993.60) scale(0.3050,0.2928)" font-size="100" font-weight="bold" fill="#000" xml:space="preserve">Recognition Memory (male)</text>
<text transform="translate(127.12,1306.15) rotate(-90) scale(0.2647,0.2564)" font-size="100" font-weight="bold" fill="#000" xml:space="preserve">Exploration time (%)</text>
<rect x="574.40" y="1034.50" width="33.00" height="17.00" fill="#000"/>
<rect x="578.40" y="1038.50" width="25.00" height="9.00" fill="#fff"/>
<rect x="574.40" y="1070.90" width="33.00" height="17.00" fill="#000"/>
<text transform="translate(625.23,1050.40) scale(0.2587,0.2667)" font-size="100" font-weight="normal" fill="#000" xml:space="preserve">Familiar</text>
<text transform="translate(625.37,1087.80) scale(0.2415,0.2667)" font-size="100" font-weight="normal" fill="#000" xml:space="preserve">Novel</text>
<text transform="translate(9.09,982.69) scale(0.3475,0.4722)" font-size="100" font-weight="bold" fill="#000" stroke="#000" stroke-width="3" stroke-linejoin="round" xml:space="preserve">E</text>
<line x1="932.00" y1="1021.40" x2="932.00" y2="1336.50" stroke="#000" stroke-width="2.6" stroke-linecap="butt"/>
<line x1="922.30" y1="1335.20" x2="1246.70" y2="1335.20" stroke="#000" stroke-width="2.6" stroke-linecap="butt"/>
<line x1="922.30" y1="1022.70" x2="932.00" y2="1022.70" stroke="#000" stroke-width="2.6" stroke-linecap="butt"/>
<line x1="922.30" y1="1100.30" x2="932.00" y2="1100.30" stroke="#000" stroke-width="2.6" stroke-linecap="butt"/>
<line x1="922.30" y1="1177.90" x2="932.00" y2="1177.90" stroke="#000" stroke-width="2.6" stroke-linecap="butt"/>
<line x1="922.30" y1="1255.50" x2="932.00" y2="1255.50" stroke="#000" stroke-width="2.6" stroke-linecap="butt"/>
<line x1="922.30" y1="1335.20" x2="932.00" y2="1335.20" stroke="#000" stroke-width="2.6" stroke-linecap="butt"/>
<text transform="translate(892.23,1029.36) scale(0.2315,0.2394)" font-size="100" font-weight="normal" fill="#000" xml:space="preserve">80</text>
<text transform="translate(892.23,1106.96) scale(0.2315,0.2394)" font-size="100" font-weight="normal" fill="#000" xml:space="preserve">60</text>
<text transform="translate(892.23,1184.56) scale(0.2315,0.2394)" font-size="100" font-weight="normal" fill="#000" xml:space="preserve">40</text>
<text transform="translate(892.23,1262.16) scale(0.2315,0.2394)" font-size="100" font-weight="normal" fill="#000" xml:space="preserve">20</text>
<text transform="translate(904.96,1341.86) scale(0.2315,0.2394)" font-size="100" font-weight="normal" fill="#000" xml:space="preserve">0</text>
<line x1="957.55" y1="1202.40" x2="957.55" y2="1188.10" stroke="#000" stroke-width="3.6" stroke-linecap="butt"/>
<line x1="948.90" y1="1188.10" x2="966.20" y2="1188.10" stroke="#000" stroke-width="4.0" stroke-linecap="butt"/>
<rect x="940.70" y="1201.40" width="34.10" height="133.80" fill="#000"/>
<rect x="944.70" y="1205.40" width="26.10" height="129.30" fill="#fff"/>
<line x1="996.85" y1="1080.90" x2="996.85" y2="1067.60" stroke="#000" stroke-width="3.6" stroke-linecap="butt"/>
<line x1="988.70" y1="1067.60" x2="1005.00" y2="1067.60" stroke="#000" stroke-width="4.0" stroke-linecap="butt"/>
<rect x="980.10" y="1079.90" width="34.10" height="255.30" fill="#000"/>
<line x1="1068.10" y1="1202.20" x2="1068.10" y2="1183.40" stroke="#000" stroke-width="3.6" stroke-linecap="butt"/>
<line x1="1059.40" y1="1183.40" x2="1076.80" y2="1183.40" stroke="#000" stroke-width="4.0" stroke-linecap="butt"/>
<rect x="1051.00" y="1201.20" width="34.00" height="134.00" fill="#000"/>
<rect x="1055.00" y="1205.20" width="26.00" height="129.50" fill="#fff"/>
<line x1="1107.10" y1="1080.70" x2="1107.10" y2="1063.30" stroke="#000" stroke-width="3.6" stroke-linecap="butt"/>
<line x1="1098.60" y1="1063.30" x2="1115.60" y2="1063.30" stroke="#000" stroke-width="4.0" stroke-linecap="butt"/>
<rect x="1089.40" y="1079.70" width="34.30" height="255.50" fill="#000"/>
<line x1="1178.00" y1="1186.90" x2="1178.00" y2="1166.00" stroke="#000" stroke-width="3.6" stroke-linecap="butt"/>
<line x1="1169.00" y1="1166.00" x2="1187.00" y2="1166.00" stroke="#000" stroke-width="4.0" stroke-linecap="butt"/>
<rect x="1160.50" y="1185.90" width="35.10" height="149.30" fill="#000"/>
<rect x="1164.50" y="1189.90" width="27.10" height="144.80" fill="#fff"/>
<line x1="1216.75" y1="1097.00" x2="1216.75" y2="1078.20" stroke="#000" stroke-width="3.6" stroke-linecap="butt"/>
<line x1="1208.30" y1="1078.20" x2="1225.20" y2="1078.20" stroke="#000" stroke-width="4.0" stroke-linecap="butt"/>
<rect x="1199.30" y="1096.00" width="35.50" height="239.20" fill="#000"/>
<line x1="951.30" y1="1048.60" x2="1002.60" y2="1048.60" stroke="#000" stroke-width="2.6" stroke-linecap="butt"/>
<line x1="1063.50" y1="1049.70" x2="1113.90" y2="1049.70" stroke="#000" stroke-width="3.0" stroke-linecap="butt"/>
<line x1="1176.20" y1="1049.00" x2="1227.90" y2="1049.00" stroke="#000" stroke-width="2.6" stroke-linecap="butt"/>
<text transform="translate(954.80,1045.74) scale(0.3982,0.3028)" font-size="100" font-weight="normal" fill="#000" stroke="#000" stroke-width="1.0" stroke-linejoin="round" xml:space="preserve">***</text>
<text transform="translate(1073.40,1044.20) scale(0.3973,0.2806)" font-size="100" font-weight="normal" fill="#000" stroke="#000" stroke-width="1.0" stroke-linejoin="round" xml:space="preserve">**</text>
<text transform="translate(1198.04,1044.20) scale(0.3750,0.2806)" font-size="100" font-weight="normal" fill="#000" stroke="#000" stroke-width="1.0" stroke-linejoin="round" xml:space="preserve">*</text>
<text transform="translate(953.70,1377.73) scale(0.2504,0.2231)" font-size="100" font-weight="bold" fill="#000" stroke="#000" stroke-width="4" stroke-linejoin="round" xml:space="preserve">+/+</text>
<text transform="translate(1070.20,1377.73) scale(0.2504,0.2231)" font-size="100" font-weight="bold" fill="#000" stroke="#000" stroke-width="4" stroke-linejoin="round" xml:space="preserve">+/-</text>
<text transform="translate(1181.60,1377.73) scale(0.2504,0.2231)" font-size="100" font-weight="bold" fill="#000" stroke="#000" stroke-width="4" stroke-linejoin="round" xml:space="preserve">-/-</text>
<text transform="translate(874.28,993.60) scale(0.3035,0.2928)" font-size="100" font-weight="bold" fill="#000" xml:space="preserve">Recognition Memory (female)</text>
<text transform="translate(878.14,1302.01) rotate(-90) scale(0.2583,0.2457)" font-size="100" font-weight="bold" fill="#000" xml:space="preserve">Exploration time (%)</text>
<rect x="1317.40" y="1036.00" width="34.50" height="15.70" fill="#000"/>
<rect x="1321.40" y="1040.00" width="26.50" height="7.70" fill="#fff"/>
<rect x="1317.40" y="1070.90" width="34.50" height="16.70" fill="#000"/>
<text transform="translate(1368.55,1051.60) scale(0.2561,0.2638)" font-size="100" font-weight="normal" fill="#000" xml:space="preserve">Familiar</text>
<text transform="translate(1368.63,1087.50) scale(0.2461,0.2551)" font-size="100" font-weight="normal" fill="#000" xml:space="preserve">Novel</text>
<text transform="translate(772.35,979.70) scale(0.3547,0.4667)" font-size="100" font-weight="bold" fill="#000" stroke="#000" stroke-width="3" stroke-linejoin="round" xml:space="preserve">F</text>
<line x1="134.00" y1="1484.50" x2="134.00" y2="1781.60" stroke="#000" stroke-width="2.6" stroke-linecap="butt"/>
<line x1="125.50" y1="1780.30" x2="578.50" y2="1780.30" stroke="#000" stroke-width="2.6" stroke-linecap="butt"/>
<line x1="125.50" y1="1485.80" x2="134.00" y2="1485.80" stroke="#000" stroke-width="2.6" stroke-linecap="butt"/>
<line x1="125.50" y1="1545.10" x2="134.00" y2="1545.10" stroke="#000" stroke-width="2.6" stroke-linecap="butt"/>
<line x1="125.50" y1="1604.60" x2="134.00" y2="1604.60" stroke="#000" stroke-width="2.6" stroke-linecap="butt"/>
<line x1="125.50" y1="1663.40" x2="134.00" y2="1663.40" stroke="#000" stroke-width="2.6" stroke-linecap="butt"/>
<line x1="125.50" y1="1721.50" x2="134.00" y2="1721.50" stroke="#000" stroke-width="2.6" stroke-linecap="butt"/>
<line x1="125.50" y1="1780.30" x2="134.00" y2="1780.30" stroke="#000" stroke-width="2.6" stroke-linecap="butt"/>
<text transform="translate(96.73,1492.57) scale(0.2175,0.2254)" font-size="100" font-weight="bold" fill="#000" xml:space="preserve">50</text>
<text transform="translate(96.73,1551.87) scale(0.2175,0.2254)" font-size="100" font-weight="bold" fill="#000" xml:space="preserve">40</text>
<text transform="translate(96.73,1611.37) scale(0.2175,0.2254)" font-size="100" font-weight="bold" fill="#000" xml:space="preserve">30</text>
<text transform="translate(96.73,1670.17) scale(0.2175,0.2254)" font-size="100" font-weight="bold" fill="#000" xml:space="preserve">20</text>
<text transform="translate(96.73,1728.27) scale(0.2175,0.2254)" font-size="100" font-weight="bold" fill="#000" xml:space="preserve">10</text>
<text transform="translate(108.91,1787.07) scale(0.2175,0.2254)" font-size="100" font-weight="bold" fill="#000" xml:space="preserve">0</text>
<line x1="306.20" y1="1748.00" x2="306.20" y2="1764.00" stroke="#a0a0a0" stroke-width="3.0" stroke-linecap="butt"/>
<line x1="355.40" y1="1730.00" x2="355.40" y2="1745.00" stroke="#a0a0a0" stroke-width="3.0" stroke-linecap="butt"/>
<line x1="404.60" y1="1595.00" x2="404.60" y2="1634.00" stroke="#a0a0a0" stroke-width="3.0" stroke-linecap="butt"/>
<line x1="453.80" y1="1584.00" x2="453.80" y2="1629.00" stroke="#a0a0a0" stroke-width="3.0" stroke-linecap="butt"/>
<line x1="503.00" y1="1590.00" x2="503.00" y2="1628.00" stroke="#a0a0a0" stroke-width="3.0" stroke-linecap="butt"/>
<line x1="552.20" y1="1582.00" x2="552.20" y2="1626.40" stroke="#a0a0a0" stroke-width="3.0" stroke-linecap="butt"/>
<polyline points="158.60,1759.00 207.80,1755.00 257.00,1756.00 306.20,1752.00 355.40,1737.00 404.60,1613.60 453.80,1606.30 503.00,1609.30 552.20,1604.20" fill="none" stroke="#a0a0a0" stroke-width="3.0" stroke-linejoin="round"/>
<rect x="152.10" y="1752.50" width="13.00" height="13.00" fill="#a0a0a0"/>
<rect x="201.30" y="1748.50" width="13.00" height="13.00" fill="#a0a0a0"/>
<rect x="250.50" y="1749.50" width="13.00" height="13.00" fill="#a0a0a0"/>
<rect x="299.70" y="1745.50" width="13.00" height="13.00" fill="#a0a0a0"/>
<rect x="348.90" y="1730.50" width="13.00" height="13.00" fill="#a0a0a0"/>
<rect x="398.10" y="1607.10" width="13.00" height="13.00" fill="#a0a0a0"/>
<rect x="447.30" y="1599.80" width="13.00" height="13.00" fill="#a0a0a0"/>
<rect x="496.50" y="1602.80" width="13.00" height="13.00" fill="#a0a0a0"/>
<rect x="545.70" y="1597.70" width="13.00" height="13.00" fill="#a0a0a0"/>
<line x1="404.60" y1="1564.20" x2="404.60" y2="1617.00" stroke="#000" stroke-width="3.0" stroke-linecap="butt"/>
<line x1="453.80" y1="1534.10" x2="453.80" y2="1593.00" stroke="#000" stroke-width="3.0" stroke-linecap="butt"/>
<line x1="503.00" y1="1549.00" x2="503.00" y2="1599.00" stroke="#000" stroke-width="3.0" stroke-linecap="butt"/>
<line x1="552.20" y1="1520.00" x2="552.20" y2="1579.00" stroke="#000" stroke-width="3.0" stroke-linecap="butt"/>
<polyline points="158.60,1761.50 207.80,1757.20 257.00,1758.90 306.20,1746.20 355.40,1742.00 404.60,1590.60 453.80,1563.40 503.00,1574.10 552.20,1549.40" fill="none" stroke="#000" stroke-width="3.0" stroke-linejoin="round"/>
<path d="M150.85,1753.75h15.50v15.50h-15.50z M154.05,1756.95v9.10h9.10v-9.10z" fill="#000" fill-rule="evenodd"/>
<rect x="154.05" y="1756.95" width="9.10" height="9.10" fill="#fff" fill-opacity="0.65"/>
<path d="M200.05,1749.45h15.50v15.50h-15.50z M203.25,1752.65v9.10h9.10v-9.10z" fill="#000" fill-rule="evenodd"/>
<rect x="203.25" y="1752.65" width="9.10" height="9.10" fill="#fff" fill-opacity="0.65"/>
<path d="M249.25,1751.15h15.50v15.50h-15.50z M252.45,1754.35v9.10h9.10v-9.10z" fill="#000" fill-rule="evenodd"/>
<rect x="252.45" y="1754.35" width="9.10" height="9.10" fill="#fff" fill-opacity="0.65"/>
<path d="M298.45,1738.45h15.50v15.50h-15.50z M301.65,1741.65v9.10h9.10v-9.10z" fill="#000" fill-rule="evenodd"/>
<rect x="301.65" y="1741.65" width="9.10" height="9.10" fill="#fff" fill-opacity="0.65"/>
<path d="M347.65,1734.25h15.50v15.50h-15.50z M350.85,1737.45v9.10h9.10v-9.10z" fill="#000" fill-rule="evenodd"/>
<rect x="350.85" y="1737.45" width="9.10" height="9.10" fill="#fff" fill-opacity="0.65"/>
<path d="M396.85,1582.85h15.50v15.50h-15.50z M400.05,1586.05v9.10h9.10v-9.10z" fill="#000" fill-rule="evenodd"/>
<rect x="400.05" y="1586.05" width="9.10" height="9.10" fill="#fff" fill-opacity="0.65"/>
<path d="M446.05,1555.65h15.50v15.50h-15.50z M449.25,1558.85v9.10h9.10v-9.10z" fill="#000" fill-rule="evenodd"/>
<rect x="449.25" y="1558.85" width="9.10" height="9.10" fill="#fff" fill-opacity="0.65"/>
<path d="M495.25,1566.35h15.50v15.50h-15.50z M498.45,1569.55v9.10h9.10v-9.10z" fill="#000" fill-rule="evenodd"/>
<rect x="498.45" y="1569.55" width="9.10" height="9.10" fill="#fff" fill-opacity="0.65"/>
<path d="M544.45,1541.65h15.50v15.50h-15.50z M547.65,1544.85v9.10h9.10v-9.10z" fill="#000" fill-rule="evenodd"/>
<rect x="547.65" y="1544.85" width="9.10" height="9.10" fill="#fff" fill-opacity="0.65"/>
<line x1="404.60" y1="1572.00" x2="404.60" y2="1626.40" stroke="#000" stroke-width="3.0" stroke-linecap="butt"/>
<line x1="453.80" y1="1534.00" x2="453.80" y2="1594.00" stroke="#000" stroke-width="3.0" stroke-linecap="butt"/>
<line x1="503.00" y1="1590.50" x2="503.00" y2="1638.30" stroke="#000" stroke-width="3.0" stroke-linecap="butt"/>
<line x1="552.20" y1="1568.00" x2="552.20" y2="1616.10" stroke="#000" stroke-width="3.0" stroke-linecap="butt"/>
<polyline points="158.60,1757.20 207.80,1748.70 257.00,1753.00 306.20,1752.10 355.40,1751.40 404.60,1599.10 453.80,1563.40 503.00,1614.40 552.20,1592.30" fill="none" stroke="#000" stroke-width="3.0" stroke-linejoin="round"/>
<circle cx="158.60" cy="1757.20" r="6.50" fill="#000"/>
<circle cx="207.80" cy="1748.70" r="6.50" fill="#000"/>
<circle cx="257.00" cy="1753.00" r="6.50" fill="#000"/>
<circle cx="306.20" cy="1752.10" r="6.50" fill="#000"/>
<circle cx="355.40" cy="1751.40" r="6.50" fill="#000"/>
<circle cx="404.60" cy="1599.10" r="6.50" fill="#000"/>
<circle cx="453.80" cy="1563.40" r="6.50" fill="#000"/>
<circle cx="503.00" cy="1614.40" r="6.50" fill="#000"/>
<circle cx="552.20" cy="1592.30" r="6.50" fill="#000"/>
<line x1="607.70" y1="1506.30" x2="638.70" y2="1506.30" stroke="#000" stroke-width="2.8" stroke-linecap="butt"/>
<circle cx="623.2" cy="1506.3" r="6.2" fill="#000"/>
<line x1="607.70" y1="1540.60" x2="638.70" y2="1540.60" stroke="#a0a0a0" stroke-width="2.8" stroke-linecap="butt"/>
<rect x="616.80" y="1534.40" width="12.60" height="12.40" fill="#a0a0a0"/>
<line x1="607.70" y1="1574.10" x2="638.70" y2="1574.10" stroke="#000" stroke-width="2.8" stroke-linecap="butt"/>
<rect x="615.20" y="1566.00" width="15.70" height="16.20" fill="#000"/>
<rect x="618.60" y="1569.40" width="8.90" height="9.40" fill="#fff"/>
<line x1="618.00" y1="1574.10" x2="628.00" y2="1574.10" stroke="#000" stroke-width="2.6" stroke-linecap="butt"/>
<text transform="translate(655.50,1513.26) scale(0.2511,0.2351)" font-size="100" font-weight="bold" fill="#000" xml:space="preserve">+/+</text>
<text transform="translate(655.50,1547.56) scale(0.2511,0.2351)" font-size="100" font-weight="bold" fill="#000" xml:space="preserve">+/-</text>
<text transform="translate(664.20,1581.06) scale(0.2511,0.2351)" font-size="100" font-weight="bold" fill="#000" xml:space="preserve">-/-</text>
<text transform="translate(150.80,1812.95) scale(0.1918,0.2028)" font-size="100" font-weight="normal" fill="#000" stroke="#000" stroke-width="2.5" stroke-linejoin="round" xml:space="preserve">1</text>
<text transform="translate(200.38,1812.95) scale(0.1918,0.2028)" font-size="100" font-weight="normal" fill="#000" stroke="#000" stroke-width="2.5" stroke-linejoin="round" xml:space="preserve">2</text>
<text transform="translate(249.77,1812.95) scale(0.1918,0.2028)" font-size="100" font-weight="normal" fill="#000" stroke="#000" stroke-width="2.5" stroke-linejoin="round" xml:space="preserve">3</text>
<text transform="translate(299.06,1812.95) scale(0.1918,0.2028)" font-size="100" font-weight="normal" fill="#000" stroke="#000" stroke-width="2.5" stroke-linejoin="round" xml:space="preserve">4</text>
<text transform="translate(348.35,1812.95) scale(0.1918,0.2028)" font-size="100" font-weight="normal" fill="#000" stroke="#000" stroke-width="2.5" stroke-linejoin="round" xml:space="preserve">5</text>
<text transform="translate(397.54,1812.95) scale(0.1918,0.2028)" font-size="100" font-weight="normal" fill="#000" stroke="#000" stroke-width="2.5" stroke-linejoin="round" xml:space="preserve">6</text>
<text transform="translate(446.83,1812.95) scale(0.1918,0.2028)" font-size="100" font-weight="normal" fill="#000" stroke="#000" stroke-width="2.5" stroke-linejoin="round" xml:space="preserve">7</text>
<text transform="translate(496.22,1812.95) scale(0.1918,0.2028)" font-size="100" font-weight="normal" fill="#000" stroke="#000" stroke-width="2.5" stroke-linejoin="round" xml:space="preserve">8</text>
<text transform="translate(545.41,1812.95) scale(0.1918,0.2028)" font-size="100" font-weight="normal" fill="#000" stroke="#000" stroke-width="2.5" stroke-linejoin="round" xml:space="preserve">9</text>
<text transform="translate(333.55,1842.11) scale(0.2450,0.1947)" font-size="100" font-weight="normal" fill="#000" stroke="#000" stroke-width="3" stroke-linejoin="round" xml:space="preserve">min</text>
<text transform="translate(192.36,1471.20) scale(0.2840,0.2928)" font-size="100" font-weight="bold" fill="#000" xml:space="preserve">OFL conditioning (male)</text>
<text transform="translate(84.47,1704.34) rotate(-90) scale(0.2632,0.2240)" font-size="100" font-weight="normal" fill="#000" stroke="#000" stroke-width="2" stroke-linejoin="round" xml:space="preserve">Freezing(%)</text>
<text transform="translate(25.27,1449.86) scale(0.4113,0.4568)" font-size="100" font-weight="bold" fill="#000" stroke="#000" stroke-width="3" stroke-linejoin="round" xml:space="preserve">G</text>
<line x1="134.00" y1="1933.40" x2="134.00" y2="2229.70" stroke="#000" stroke-width="2.6" stroke-linecap="butt"/>
<line x1="125.50" y1="2228.40" x2="578.50" y2="2228.40" stroke="#000" stroke-width="2.6" stroke-linecap="butt"/>
<line x1="125.50" y1="1934.70" x2="134.00" y2="1934.70" stroke="#000" stroke-width="2.6" stroke-linecap="butt"/>
<line x1="125.50" y1="2007.80" x2="134.00" y2="2007.80" stroke="#000" stroke-width="2.6" stroke-linecap="butt"/>
<line x1="125.50" y1="2081.30" x2="134.00" y2="2081.30" stroke="#000" stroke-width="2.6" stroke-linecap="butt"/>
<line x1="125.50" y1="2154.80" x2="134.00" y2="2154.80" stroke="#000" stroke-width="2.6" stroke-linecap="butt"/>
<line x1="125.50" y1="2228.40" x2="134.00" y2="2228.40" stroke="#000" stroke-width="2.6" stroke-linecap="butt"/>
<text transform="translate(96.73,1941.47) scale(0.2175,0.2254)" font-size="100" font-weight="bold" fill="#000" xml:space="preserve">40</text>
<text transform="translate(96.73,2014.57) scale(0.2175,0.2254)" font-size="100" font-weight="bold" fill="#000" xml:space="preserve">30</text>
<text transform="translate(96.73,2088.07) scale(0.2175,0.2254)" font-size="100" font-weight="bold" fill="#000" xml:space="preserve">20</text>
<text transform="translate(96.73,2161.57) scale(0.2175,0.2254)" font-size="100" font-weight="bold" fill="#000" xml:space="preserve">10</text>
<text transform="translate(108.91,2235.17) scale(0.2175,0.2254)" font-size="100" font-weight="bold" fill="#000" xml:space="preserve">0</text>
<line x1="257.00" y1="2205.00" x2="257.00" y2="2219.00" stroke="#a0a0a0" stroke-width="3.0" stroke-linecap="butt"/>
<line x1="355.40" y1="2197.00" x2="355.40" y2="2212.50" stroke="#a0a0a0" stroke-width="3.0" stroke-linecap="butt"/>
<line x1="404.60" y1="2077.00" x2="404.60" y2="2121.70" stroke="#a0a0a0" stroke-width="3.0" stroke-linecap="butt"/>
<line x1="453.80" y1="2004.00" x2="453.80" y2="2078.30" stroke="#a0a0a0" stroke-width="3.0" stroke-linecap="butt"/>
<line x1="503.00" y1="2027.00" x2="503.00" y2="2113.20" stroke="#a0a0a0" stroke-width="3.0" stroke-linecap="butt"/>
<line x1="552.20" y1="2019.00" x2="552.20" y2="2114.00" stroke="#a0a0a0" stroke-width="3.0" stroke-linecap="butt"/>
<polyline points="158.60,2217.40 207.80,2213.00 257.00,2211.00 306.20,2201.00 355.40,2203.50 404.60,2098.70 453.80,2041.20 503.00,2069.80 552.20,2066.70" fill="none" stroke="#a0a0a0" stroke-width="3.0" stroke-linejoin="round"/>
<rect x="152.10" y="2210.90" width="13.00" height="13.00" fill="#a0a0a0"/>
<rect x="201.30" y="2206.50" width="13.00" height="13.00" fill="#a0a0a0"/>
<rect x="250.50" y="2204.50" width="13.00" height="13.00" fill="#a0a0a0"/>
<rect x="299.70" y="2194.50" width="13.00" height="13.00" fill="#a0a0a0"/>
<rect x="348.90" y="2197.00" width="13.00" height="13.00" fill="#a0a0a0"/>
<rect x="398.10" y="2092.20" width="13.00" height="13.00" fill="#a0a0a0"/>
<rect x="447.30" y="2034.70" width="13.00" height="13.00" fill="#a0a0a0"/>
<rect x="496.50" y="2063.30" width="13.00" height="13.00" fill="#a0a0a0"/>
<rect x="545.70" y="2060.20" width="13.00" height="13.00" fill="#a0a0a0"/>
<line x1="404.60" y1="2077.40" x2="404.60" y2="2108.90" stroke="#000" stroke-width="3.0" stroke-linecap="butt"/>
<line x1="453.80" y1="2016.00" x2="453.80" y2="2065.50" stroke="#000" stroke-width="3.0" stroke-linecap="butt"/>
<line x1="503.00" y1="2012.00" x2="503.00" y2="2059.00" stroke="#000" stroke-width="3.0" stroke-linecap="butt"/>
<line x1="552.20" y1="1968.50" x2="552.20" y2="2057.00" stroke="#000" stroke-width="3.0" stroke-linecap="butt"/>
<polyline points="158.60,2209.20 207.80,2208.00 257.00,2197.00 306.20,2195.30 355.40,2199.00 404.60,2093.90 453.80,2041.20 503.00,2035.70 552.20,2012.80" fill="none" stroke="#000" stroke-width="3.0" stroke-linejoin="round"/>
<path d="M150.85,2201.45h15.50v15.50h-15.50z M154.05,2204.65v9.10h9.10v-9.10z" fill="#000" fill-rule="evenodd"/>
<rect x="154.05" y="2204.65" width="9.10" height="9.10" fill="#fff" fill-opacity="0.65"/>
<path d="M200.05,2200.25h15.50v15.50h-15.50z M203.25,2203.45v9.10h9.10v-9.10z" fill="#000" fill-rule="evenodd"/>
<rect x="203.25" y="2203.45" width="9.10" height="9.10" fill="#fff" fill-opacity="0.65"/>
<path d="M249.25,2189.25h15.50v15.50h-15.50z M252.45,2192.45v9.10h9.10v-9.10z" fill="#000" fill-rule="evenodd"/>
<rect x="252.45" y="2192.45" width="9.10" height="9.10" fill="#fff" fill-opacity="0.65"/>
<path d="M298.45,2187.55h15.50v15.50h-15.50z M301.65,2190.75v9.10h9.10v-9.10z" fill="#000" fill-rule="evenodd"/>
<rect x="301.65" y="2190.75" width="9.10" height="9.10" fill="#fff" fill-opacity="0.65"/>
<path d="M347.65,2191.25h15.50v15.50h-15.50z M350.85,2194.45v9.10h9.10v-9.10z" fill="#000" fill-rule="evenodd"/>
<rect x="350.85" y="2194.45" width="9.10" height="9.10" fill="#fff" fill-opacity="0.65"/>
<path d="M396.85,2086.15h15.50v15.50h-15.50z M400.05,2089.35v9.10h9.10v-9.10z" fill="#000" fill-rule="evenodd"/>
<rect x="400.05" y="2089.35" width="9.10" height="9.10" fill="#fff" fill-opacity="0.65"/>
<path d="M446.05,2033.45h15.50v15.50h-15.50z M449.25,2036.65v9.10h9.10v-9.10z" fill="#000" fill-rule="evenodd"/>
<rect x="449.25" y="2036.65" width="9.10" height="9.10" fill="#fff" fill-opacity="0.65"/>
<path d="M495.25,2027.95h15.50v15.50h-15.50z M498.45,2031.15v9.10h9.10v-9.10z" fill="#000" fill-rule="evenodd"/>
<rect x="498.45" y="2031.15" width="9.10" height="9.10" fill="#fff" fill-opacity="0.65"/>
<path d="M544.45,2005.05h15.50v15.50h-15.50z M547.65,2008.25v9.10h9.10v-9.10z" fill="#000" fill-rule="evenodd"/>
<rect x="547.65" y="2008.25" width="9.10" height="9.10" fill="#fff" fill-opacity="0.65"/>
<line x1="404.60" y1="2007.60" x2="404.60" y2="2064.70" stroke="#000" stroke-width="3.0" stroke-linecap="butt"/>
<line x1="453.80" y1="1940.40" x2="453.80" y2="2018.00" stroke="#000" stroke-width="3.0" stroke-linecap="butt"/>
<line x1="503.00" y1="1984.00" x2="503.00" y2="2067.00" stroke="#000" stroke-width="3.0" stroke-linecap="butt"/>
<line x1="552.20" y1="2000.00" x2="552.20" y2="2068.00" stroke="#000" stroke-width="3.0" stroke-linecap="butt"/>
<polyline points="158.60,2225.40 207.80,2219.60 257.00,2206.60 306.20,2206.80 355.40,2192.00 404.60,2036.20 453.80,1979.20 503.00,2025.50 552.20,2034.00" fill="none" stroke="#000" stroke-width="3.0" stroke-linejoin="round"/>
<circle cx="158.60" cy="2225.40" r="6.50" fill="#000"/>
<circle cx="207.80" cy="2219.60" r="6.50" fill="#000"/>
<circle cx="257.00" cy="2206.60" r="6.50" fill="#000"/>
<circle cx="306.20" cy="2206.80" r="6.50" fill="#000"/>
<circle cx="355.40" cy="2192.00" r="6.50" fill="#000"/>
<circle cx="404.60" cy="2036.20" r="6.50" fill="#000"/>
<circle cx="453.80" cy="1979.20" r="6.50" fill="#000"/>
<circle cx="503.00" cy="2025.50" r="6.50" fill="#000"/>
<circle cx="552.20" cy="2034.00" r="6.50" fill="#000"/>
<line x1="607.70" y1="1955.20" x2="638.70" y2="1955.20" stroke="#000" stroke-width="2.8" stroke-linecap="butt"/>
<circle cx="623.2" cy="1955.2" r="6.2" fill="#000"/>
<line x1="607.70" y1="1989.10" x2="638.70" y2="1989.10" stroke="#a0a0a0" stroke-width="2.8" stroke-linecap="butt"/>
<rect x="616.80" y="1982.90" width="12.60" height="12.40" fill="#a0a0a0"/>
<line x1="607.70" y1="2022.70" x2="638.70" y2="2022.70" stroke="#000" stroke-width="2.8" stroke-linecap="butt"/>
<rect x="615.20" y="2014.60" width="15.70" height="16.20" fill="#000"/>
<rect x="618.60" y="2018.00" width="8.90" height="9.40" fill="#fff"/>
<line x1="618.00" y1="2022.70" x2="628.00" y2="2022.70" stroke="#000" stroke-width="2.6" stroke-linecap="butt"/>
<text transform="translate(655.50,1962.16) scale(0.2511,0.2351)" font-size="100" font-weight="bold" fill="#000" xml:space="preserve">+/+</text>
<text transform="translate(655.50,1996.06) scale(0.2511,0.2351)" font-size="100" font-weight="bold" fill="#000" xml:space="preserve">+/-</text>
<text transform="translate(664.20,2029.66) scale(0.2511,0.2351)" font-size="100" font-weight="bold" fill="#000" xml:space="preserve">-/-</text>
<text transform="translate(150.80,2261.55) scale(0.1918,0.2028)" font-size="100" font-weight="normal" fill="#000" stroke="#000" stroke-width="2.5" stroke-linejoin="round" xml:space="preserve">1</text>
<text transform="translate(200.38,2261.55) scale(0.1918,0.2028)" font-size="100" font-weight="normal" fill="#000" stroke="#000" stroke-width="2.5" stroke-linejoin="round" xml:space="preserve">2</text>
<text transform="translate(249.77,2261.55) scale(0.1918,0.2028)" font-size="100" font-weight="normal" fill="#000" stroke="#000" stroke-width="2.5" stroke-linejoin="round" xml:space="preserve">3</text>
<text transform="translate(299.06,2261.55) scale(0.1918,0.2028)" font-size="100" font-weight="normal" fill="#000" stroke="#000" stroke-width="2.5" stroke-linejoin="round" xml:space="preserve">4</text>
<text transform="translate(348.35,2261.55) scale(0.1918,0.2028)" font-size="100" font-weight="normal" fill="#000" stroke="#000" stroke-width="2.5" stroke-linejoin="round" xml:space="preserve">5</text>
<text transform="translate(397.54,2261.55) scale(0.1918,0.2028)" font-size="100" font-weight="normal" fill="#000" stroke="#000" stroke-width="2.5" stroke-linejoin="round" xml:space="preserve">6</text>
<text transform="translate(446.83,2261.55) scale(0.1918,0.2028)" font-size="100" font-weight="normal" fill="#000" stroke="#000" stroke-width="2.5" stroke-linejoin="round" xml:space="preserve">7</text>
<text transform="translate(496.22,2261.55) scale(0.1918,0.2028)" font-size="100" font-weight="normal" fill="#000" stroke="#000" stroke-width="2.5" stroke-linejoin="round" xml:space="preserve">8</text>
<text transform="translate(545.41,2261.55) scale(0.1918,0.2028)" font-size="100" font-weight="normal" fill="#000" stroke="#000" stroke-width="2.5" stroke-linejoin="round" xml:space="preserve">9</text>
<text transform="translate(333.55,2290.51) scale(0.2450,0.1947)" font-size="100" font-weight="normal" fill="#000" stroke="#000" stroke-width="3" stroke-linejoin="round" xml:space="preserve">min</text>
<text transform="translate(178.97,1919.80) scale(0.2836,0.3029)" font-size="100" font-weight="bold" fill="#000" xml:space="preserve">OFL conditioning (female)</text>
<text transform="translate(84.47,2152.13) rotate(-90) scale(0.2620,0.2240)" font-size="100" font-weight="normal" fill="#000" stroke="#000" stroke-width="2" stroke-linejoin="round" xml:space="preserve">Freezing(%)</text>
<text transform="translate(43.10,1913.30) scale(0.3824,0.4694)" font-size="100" font-weight="bold" fill="#000" stroke="#000" stroke-width="3" stroke-linejoin="round" xml:space="preserve">I</text>
<line x1="933.60" y1="1485.50" x2="933.60" y2="1783.00" stroke="#000" stroke-width="2.6" stroke-linecap="butt"/>
<line x1="924.40" y1="1781.70" x2="1228.60" y2="1781.70" stroke="#000" stroke-width="2.6" stroke-linecap="butt"/>
<line x1="924.40" y1="1486.80" x2="933.60" y2="1486.80" stroke="#000" stroke-width="2.6" stroke-linecap="butt"/>
<line x1="924.40" y1="1545.50" x2="933.60" y2="1545.50" stroke="#000" stroke-width="2.6" stroke-linecap="butt"/>
<line x1="924.40" y1="1604.50" x2="933.60" y2="1604.50" stroke="#000" stroke-width="2.6" stroke-linecap="butt"/>
<line x1="924.40" y1="1664.00" x2="933.60" y2="1664.00" stroke="#000" stroke-width="2.6" stroke-linecap="butt"/>
<line x1="924.40" y1="1723.00" x2="933.60" y2="1723.00" stroke="#000" stroke-width="2.6" stroke-linecap="butt"/>
<line x1="924.40" y1="1781.70" x2="933.60" y2="1781.70" stroke="#000" stroke-width="2.6" stroke-linecap="butt"/>
<text transform="translate(895.43,1493.57) scale(0.2175,0.2254)" font-size="100" font-weight="bold" fill="#000" xml:space="preserve">50</text>
<text transform="translate(895.43,1552.27) scale(0.2175,0.2254)" font-size="100" font-weight="bold" fill="#000" xml:space="preserve">40</text>
<text transform="translate(895.43,1611.27) scale(0.2175,0.2254)" font-size="100" font-weight="bold" fill="#000" xml:space="preserve">30</text>
<text transform="translate(895.43,1670.77) scale(0.2175,0.2254)" font-size="100" font-weight="bold" fill="#000" xml:space="preserve">20</text>
<text transform="translate(895.43,1729.77) scale(0.2175,0.2254)" font-size="100" font-weight="bold" fill="#000" xml:space="preserve">10</text>
<text transform="translate(907.61,1788.47) scale(0.2175,0.2254)" font-size="100" font-weight="bold" fill="#000" xml:space="preserve">0</text>
<line x1="982.50" y1="1700.70" x2="982.50" y2="1686.80" stroke="#000" stroke-width="3.6" stroke-linecap="butt"/>
<line x1="966.60" y1="1686.80" x2="998.40" y2="1686.80" stroke="#000" stroke-width="3.8" stroke-linecap="butt"/>
<rect x="949.20" y="1699.70" width="65.20" height="82.00" fill="#000"/>
<line x1="1080.90" y1="1650.80" x2="1080.90" y2="1606.30" stroke="#000" stroke-width="3.6" stroke-linecap="butt"/>
<line x1="1065.10" y1="1606.30" x2="1096.70" y2="1606.30" stroke="#000" stroke-width="3.8" stroke-linecap="butt"/>
<rect x="1048.00" y="1649.80" width="65.00" height="131.90" fill="#000"/>
<rect x="1052.20" y="1654.00" width="56.60" height="127.20" fill="#a0a0a0"/>
<line x1="1179.10" y1="1634.00" x2="1179.10" y2="1598.60" stroke="#000" stroke-width="3.6" stroke-linecap="butt"/>
<line x1="1163.20" y1="1598.60" x2="1195.00" y2="1598.60" stroke="#000" stroke-width="3.8" stroke-linecap="butt"/>
<rect x="1146.30" y="1633.00" width="65.00" height="148.70" fill="#000"/>
<rect x="1150.50" y="1637.20" width="56.60" height="144.00" fill="#fff"/>
<text transform="translate(964.67,1814.02) scale(0.2253,0.2146)" font-size="100" font-weight="bold" fill="#000" stroke="#000" stroke-width="1.5" stroke-linejoin="round" xml:space="preserve">+/+</text>
<text transform="translate(1067.67,1814.02) scale(0.2253,0.2146)" font-size="100" font-weight="bold" fill="#000" stroke="#000" stroke-width="1.5" stroke-linejoin="round" xml:space="preserve">+/-</text>
<text transform="translate(1168.07,1814.02) scale(0.2253,0.2146)" font-size="100" font-weight="bold" fill="#000" stroke="#000" stroke-width="1.5" stroke-linejoin="round" xml:space="preserve">-/-</text>
<text transform="translate(946.76,1459.30) scale(0.2853,0.2899)" font-size="100" font-weight="bold" fill="#000" xml:space="preserve">OFL memory (male)</text>
<text transform="translate(883.70,1704.45) rotate(-90) scale(0.2643,0.2135)" font-size="100" font-weight="normal" fill="#000" stroke="#000" stroke-width="2" stroke-linejoin="round" xml:space="preserve">Freezing(%)</text>
<text transform="translate(771.82,1450.49) scale(0.4508,0.4750)" font-size="100" font-weight="bold" fill="#000" stroke="#000" stroke-width="3" stroke-linejoin="round" xml:space="preserve">H</text>
<line x1="942.30" y1="1933.30" x2="942.30" y2="2230.00" stroke="#000" stroke-width="2.6" stroke-linecap="butt"/>
<line x1="933.80" y1="2228.70" x2="1237.50" y2="2228.70" stroke="#000" stroke-width="2.6" stroke-linecap="butt"/>
<line x1="933.80" y1="1934.60" x2="942.30" y2="1934.60" stroke="#000" stroke-width="2.6" stroke-linecap="butt"/>
<line x1="933.80" y1="2008.40" x2="942.30" y2="2008.40" stroke="#000" stroke-width="2.6" stroke-linecap="butt"/>
<line x1="933.80" y1="2081.90" x2="942.30" y2="2081.90" stroke="#000" stroke-width="2.6" stroke-linecap="butt"/>
<line x1="933.80" y1="2155.50" x2="942.30" y2="2155.50" stroke="#000" stroke-width="2.6" stroke-linecap="butt"/>
<line x1="933.80" y1="2228.70" x2="942.30" y2="2228.70" stroke="#000" stroke-width="2.6" stroke-linecap="butt"/>
<text transform="translate(903.63,1941.37) scale(0.2175,0.2254)" font-size="100" font-weight="bold" fill="#000" xml:space="preserve">40</text>
<text transform="translate(903.63,2015.17) scale(0.2175,0.2254)" font-size="100" font-weight="bold" fill="#000" xml:space="preserve">30</text>
<text transform="translate(903.63,2088.67) scale(0.2175,0.2254)" font-size="100" font-weight="bold" fill="#000" xml:space="preserve">20</text>
<text transform="translate(903.63,2162.27) scale(0.2175,0.2254)" font-size="100" font-weight="bold" fill="#000" xml:space="preserve">10</text>
<text transform="translate(915.81,2235.47) scale(0.2175,0.2254)" font-size="100" font-weight="bold" fill="#000" xml:space="preserve">0</text>
<line x1="990.60" y1="2140.80" x2="990.60" y2="2118.60" stroke="#000" stroke-width="3.6" stroke-linecap="butt"/>
<line x1="974.70" y1="2118.60" x2="1006.50" y2="2118.60" stroke="#000" stroke-width="3.8" stroke-linecap="butt"/>
<rect x="958.20" y="2139.80" width="64.50" height="88.90" fill="#000"/>
<line x1="1089.25" y1="2129.90" x2="1089.25" y2="2103.70" stroke="#000" stroke-width="3.6" stroke-linecap="butt"/>
<line x1="1073.70" y1="2103.70" x2="1104.80" y2="2103.70" stroke="#000" stroke-width="3.8" stroke-linecap="butt"/>
<rect x="1057.00" y="2128.90" width="65.30" height="99.80" fill="#000"/>
<rect x="1061.20" y="2133.10" width="56.90" height="95.10" fill="#a0a0a0"/>
<line x1="1187.85" y1="2117.40" x2="1187.85" y2="2097.00" stroke="#000" stroke-width="3.6" stroke-linecap="butt"/>
<line x1="1171.90" y1="2097.00" x2="1203.80" y2="2097.00" stroke="#000" stroke-width="3.8" stroke-linecap="butt"/>
<rect x="1154.70" y="2116.40" width="65.50" height="112.30" fill="#000"/>
<rect x="1158.90" y="2120.60" width="57.10" height="107.60" fill="#fff"/>
<text transform="translate(973.66,2262.43) scale(0.2267,0.2119)" font-size="100" font-weight="bold" fill="#000" stroke="#000" stroke-width="1.5" stroke-linejoin="round" xml:space="preserve">+/+</text>
<text transform="translate(1075.96,2262.43) scale(0.2267,0.2119)" font-size="100" font-weight="bold" fill="#000" stroke="#000" stroke-width="1.5" stroke-linejoin="round" xml:space="preserve">+/-</text>
<text transform="translate(1177.46,2262.43) scale(0.2267,0.2119)" font-size="100" font-weight="bold" fill="#000" stroke="#000" stroke-width="1.5" stroke-linejoin="round" xml:space="preserve">-/-</text>
<text transform="translate(942.66,1907.20) scale(0.2852,0.3072)" font-size="100" font-weight="bold" fill="#000" xml:space="preserve">OFL memory (female)</text>
<text transform="translate(892.40,2152.77) rotate(-90) scale(0.2667,0.2135)" font-size="100" font-weight="normal" fill="#000" stroke="#000" stroke-width="2" stroke-linejoin="round" xml:space="preserve">Freezing(%)</text>
<text transform="translate(788.05,1912.85) scale(0.2940,0.4616)" font-size="100" font-weight="bold" fill="#000" stroke="#000" stroke-width="3" stroke-linejoin="round" xml:space="preserve">J</text>
</svg></body></html>
